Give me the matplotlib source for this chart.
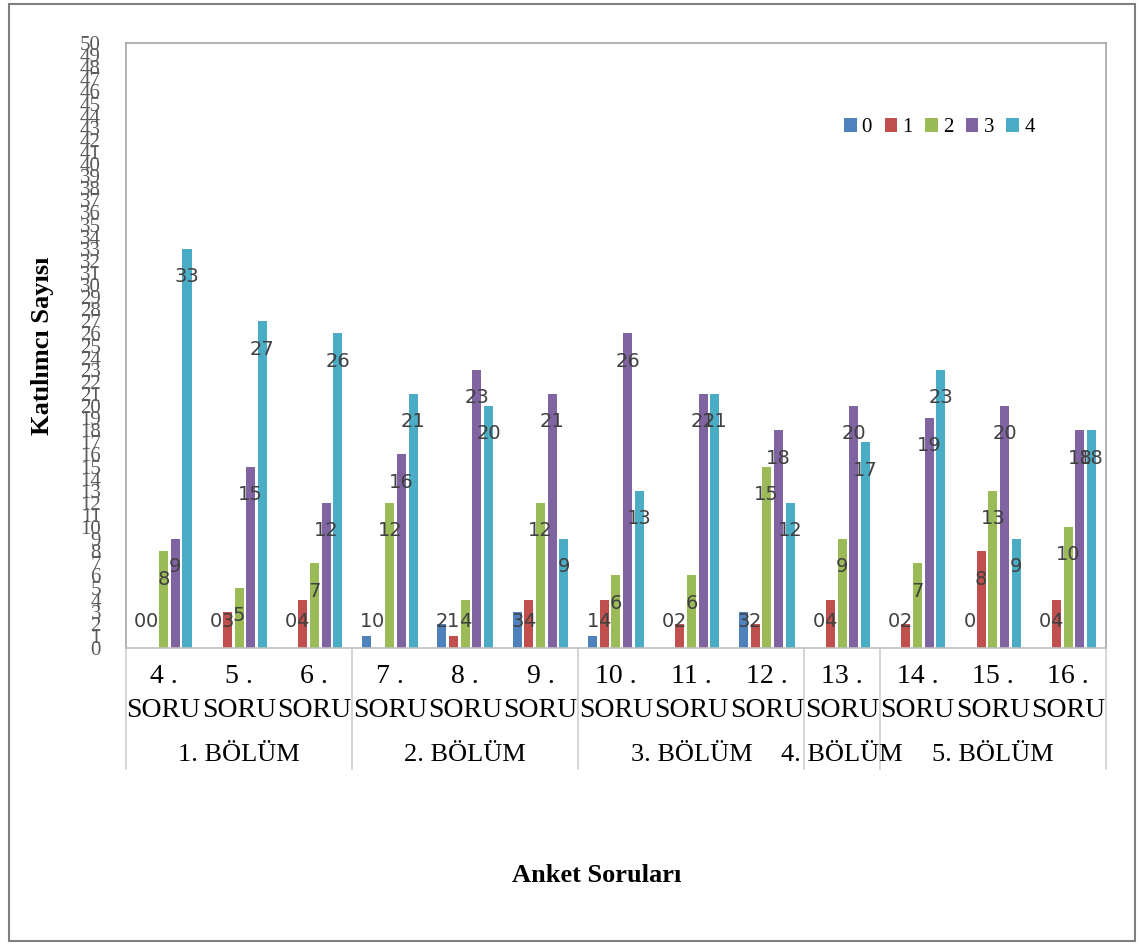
import numpy as np
import matplotlib.pyplot as plt
from matplotlib.patches import Rectangle
from matplotlib.lines import Line2D

questions = ['4 .', '5 .', '6 .', '7 .', '8 .', '9 .', '10 .', '11 .', '12 .',
             '13 .', '14 .', '15 .', '16 .']
sections = ['1. BÖLÜM', '2. BÖLÜM', '3. BÖLÜM', '4. BÖLÜM', '5. BÖLÜM']
section_sizes = [3, 3, 3, 1, 3]
series = ['0', '1', '2', '3', '4']

s0 = [0, 0, 0, 1, 2, 3, 1, 0, 3, 0, 0, 0, 0]
s1 = [0, 3, 4, 0, 1, 4, 4, 2, 2, 4, 2, 8, 4]
s2 = [8, 5, 7, 12, 4, 12, 6, 6, 15, 9, 7, 13, 10]
s3 = [9, 15, 12, 16, 23, 21, 26, 21, 18, 20, 19, 20, 18]
s4 = [33, 27, 26, 21, 20, 9, 13, 21, 12, 17, 23, 9, 18]

colors = ['#4F81BD', '#C0504D', '#9BBB59', '#8064A2', '#4BACC6']
serif = 'Liberation Serif'

fig = plt.figure(figsize=(11.43, 9.46), dpi=100)
ax = fig.add_axes([0.1102, 0.315, 0.8574, 0.6395])

x = np.arange(len(questions))
pitch = 0.155
width = 0.12
data = [s0, s1, s2, s3, s4]
for i, vals in enumerate(data):
    pos = x + (i - 2) * pitch
    ax.bar(pos, vals, width, color=colors[i], label=series[i], zorder=2)
    for j, v in enumerate(vals):
        # 15. SORU has no label for the zero in series 1
        if v == 0 and i == 1 and j == 11:
            continue
        ly = max(v - 2.3, 2.15)
        ax.text(pos[j], ly, str(v), ha='center', va='center', fontsize=14,
                color='#404040', family='DejaVu Sans', zorder=3)

ax.set_xlim(-0.5, len(questions) - 0.5)
ax.set_ylim(0, 50)
ax.set_yticks(range(0, 51))
ax.set_yticklabels([str(v) for v in range(0, 51)], family=serif, fontsize=15,
                   color='#595959')
ax.tick_params(axis='y', length=0, pad=18)
ax.set_xticks([])
for sp in ax.spines.values():
    sp.set_color('#A6A6A6')
    sp.set_linewidth(1.2)
ax.spines['bottom'].set_color('#BFBFBF')

# kategori tablosu
tr = ax.get_xaxis_transform()
bottom = -0.2
for b in [-0.5] + list(np.cumsum(section_sizes) - 0.5):
    ax.add_line(Line2D([b, b], [0, bottom], transform=tr, color='#D0D0D0',
                       lw=1.2, clip_on=False))
for j, q in enumerate(questions):
    ax.text(j, -0.047, q, transform=tr, ha='center', va='center', family=serif,
            fontsize=20, clip_on=False)
    ax.text(j, -0.103, 'SORU', transform=tr, ha='center', va='center',
            family=serif, fontsize=20, clip_on=False)
start = 0
for name, n in zip(sections, section_sizes):
    ax.text(start + (n - 1) / 2, -0.177, name, transform=tr, ha='center',
            va='center', family=serif, fontsize=19, clip_on=False)
    start += n

ax.legend(loc='center', bbox_to_anchor=(0.83, 0.86), ncol=5, frameon=False,
          prop={'family': serif, 'size': 15}, handlelength=0.6,
          handleheight=0.6, handletextpad=0.25, columnspacing=0.6)

fig.text(0.037, 0.635, 'Katılımcı Sayısı', rotation=90, ha='center',
         va='center', family=serif, fontsize=19, fontweight='bold')
fig.text(0.522, 0.075, 'Anket Soruları', ha='center', va='center',
         family=serif, fontsize=19, fontweight='bold')

fig.patches.append(Rectangle((0.008, 0.005), 0.985, 0.991,
                             transform=fig.transFigure, fill=False,
                             edgecolor='#7F7F7F', lw=1.5))

fig.savefig('out.png', dpi=100)
